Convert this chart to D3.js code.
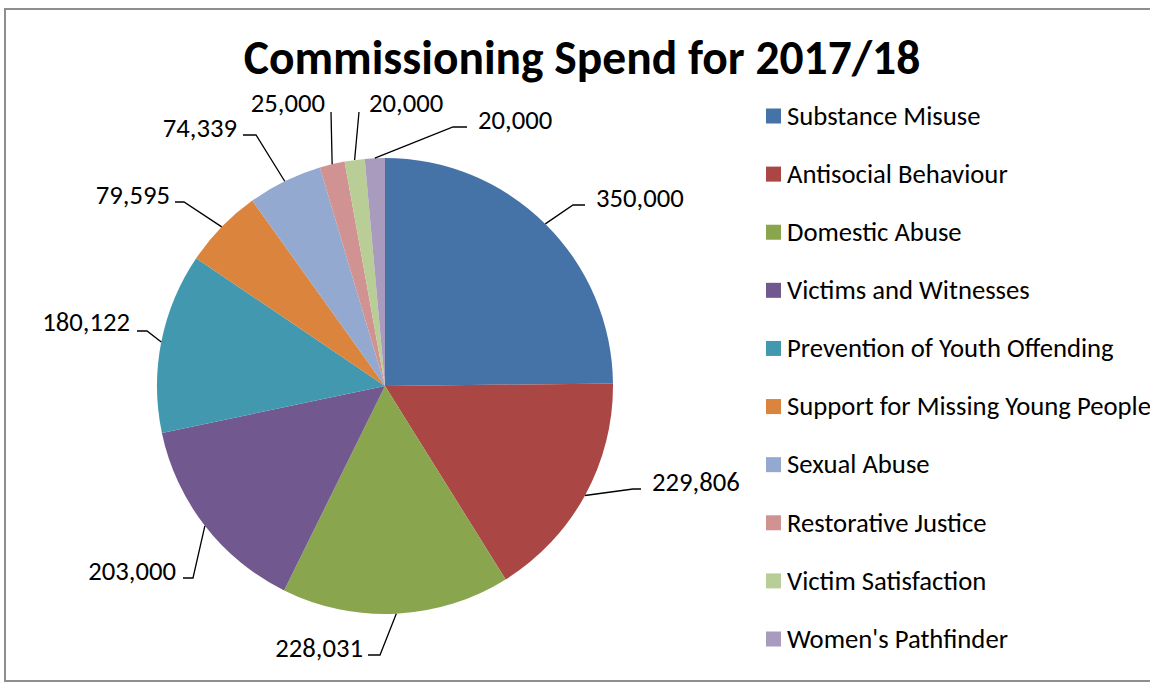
<!DOCTYPE html>
<html>
<head>
<meta charset="utf-8">
<script src="https://cdn.jsdelivr.net/npm/d3@7"></script>
<style>
  html, body { margin: 0; padding: 0; background: #fff; }
  svg { display: block; }
  text { font-family: Carlito, Lato, "Open Sans", sans-serif; fill: #000; }
</style>
</head>
<body>
<svg id="chart" width="1150" height="682"></svg>
<script>
// Commissioning spend by programme, 2017/18
const categories = [
  "Substance Misuse",
  "Antisocial Behaviour",
  "Domestic Abuse",
  "Victims and Witnesses",
  "Prevention of Youth Offending",
  "Support for Missing Young People",
  "Sexual Abuse",
  "Restorative Justice",
  "Victim Satisfaction",
  "Women's Pathfinder"
];
const spend = [350000, 229806, 228031, 203000, 180122, 79595, 74339, 25000, 20000, 20000];
const colours = ["#4572A7", "#AA4643", "#89A54E", "#71588F", "#4198AF",
                 "#DB843D", "#93A9CF", "#D19392", "#B9CD96", "#A99BBD"];
const title = "Commissioning Spend for 2017/18";

// Label placement (best-fit style): elbow of the leader, end of the leader,
// and the text anchor point (x, vertical centre of the digits).
const labelLayout = [
  { elbow: [573, 205], end: [585, 205], text: [596, 198], anchor: "start" },
  { elbow: [633, 489], end: [641, 489], text: [652, 482], anchor: "start" },
  { elbow: [380, 655], end: [368, 655], text: [363, 648], anchor: "end" },
  { elbow: [193, 578], end: [183, 578], text: [176, 571], anchor: "end" },
  { elbow: [147, 331], end: [137, 331], text: [130, 322], anchor: "end" },
  { elbow: [184, 202], end: [175, 202], text: [170, 195], anchor: "end" },
  { elbow: [256, 135], end: [243, 135], text: [237, 128], anchor: "end" },
  { elbow: null,       end: [331, 112], text: [325, 103], anchor: "end" },
  { elbow: null,       end: [359, 112], text: [369, 103], anchor: "start" },
  { elbow: [453, 127], end: [467, 127], text: [478, 120], anchor: "start" }
];

const svg = d3.select("#chart");
const fmt = d3.format(",");

// chart frame
svg.append("rect")
  .attr("x", 5).attr("y", 9)
  .attr("width", 1160).attr("height", 672)
  .attr("fill", "#fff")
  .attr("stroke", "#8e8e8e")
  .attr("stroke-width", 2);

// title
svg.append("text")
  .attr("x", 582).attr("y", 74)
  .attr("text-anchor", "middle")
  .style("font-weight", "bold")
  .style("font-size", "47.5px")
  .text(title);

// pie
const cx = 385, cy = 386, radius = 228;
const pie = d3.pie().sort(null).value(d => d)(spend);
const arc = d3.arc().innerRadius(0).outerRadius(radius);

const g = svg.append("g").attr("transform", `translate(${cx},${cy})`);
g.selectAll("path.slice")
  .data(pie)
  .join("path")
  .attr("class", "slice")
  .attr("d", arc)
  .attr("fill", (d, i) => colours[i]);

// leader lines from the slice edge to the labels
const line = d3.line();
svg.selectAll("path.leader")
  .data(pie)
  .join("path")
  .attr("class", "leader")
  .attr("fill", "none")
  .attr("stroke", "#000")
  .attr("stroke-width", 1.3)
  .attr("d", (d, i) => {
    const a = (d.startAngle + d.endAngle) / 2;
    const p0 = [cx + radius * Math.sin(a), cy - radius * Math.cos(a)];
    const L = labelLayout[i];
    const pts = [p0];
    if (L.elbow) pts.push(L.elbow);
    pts.push(L.end);
    return line(pts);
  });

// value labels
svg.selectAll("text.value")
  .data(pie)
  .join("text")
  .attr("class", "value")
  .attr("x", (d, i) => labelLayout[i].text[0])
  .attr("y", (d, i) => labelLayout[i].text[1])
  .attr("dy", "0.33em")
  .attr("text-anchor", (d, i) => labelLayout[i].anchor)
  .style("font-size", "26.7px")
  .text(d => fmt(d.data));

// legend
const legendY = d3.scalePoint().domain(categories).range([116, 639]);
const legend = svg.append("g");
const items = legend.selectAll("g")
  .data(categories)
  .join("g")
  .attr("transform", d => `translate(766,${legendY(d)})`);
items.append("rect")
  .attr("x", 0).attr("y", -7.5)
  .attr("width", 15).attr("height", 15)
  .attr("fill", (d, i) => colours[i]);
items.append("text")
  .attr("x", 21).attr("y", 0)
  .attr("dy", "0.33em")
  .style("font-size", "26.7px")
  .text(d => d);
</script>
</body>
</html>
